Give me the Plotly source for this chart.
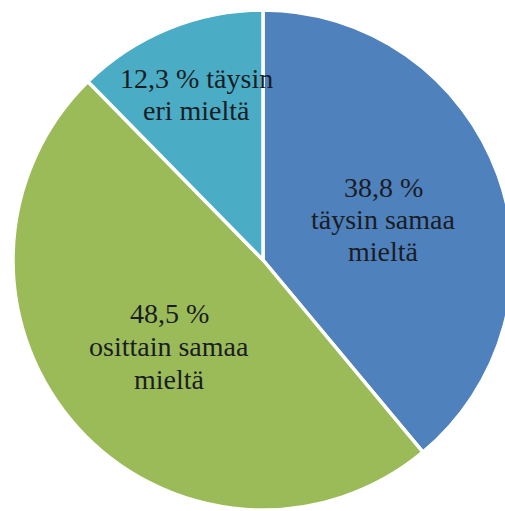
import plotly.graph_objects as go

# Survey answer shares (%)
labels = ["täysin samaa mieltä", "osittain samaa mieltä", "täysin eri mieltä"]
values = [38.8, 48.5, 12.3]
colors = ["#4F81BD", "#9BBB59", "#4BACC6"]

# Text lines following the value of each slice
label_tails = [["täysin samaa", "mieltä"], ["osittain samaa", "mieltä"], ["eri mieltä"]]
value_joins_first_tail = [False, False, True]

# Canvas and label placement (pixels from the top-left corner)
W, H = 526, 511
label_centers_x = [383, 169, 196]
label_first_mid_y = [187.5, 313.5, 78.5]
line_step = [32, 33, 32]
FONT_SIZE = 28


def fmt_pct(v):
    return f"{v:.1f}".replace(".", ",") + " %"


fig = go.Figure(
    go.Pie(
        labels=labels,
        values=values,
        sort=False,
        direction="clockwise",
        rotation=0,
        marker=dict(colors=colors, line=dict(color="white", width=3.5)),
        textinfo="none",
        hoverinfo="label+percent",
        domain=dict(x=[0, 1], y=[1 / H, 501 / H]),
        showlegend=False,
    )
)

annotations = []
for i, v in enumerate(values):
    tails = list(label_tails[i])
    if value_joins_first_tail[i]:
        lines = [fmt_pct(v) + " " + labels[i].split(" ")[0]] + tails
    else:
        lines = [fmt_pct(v)] + tails
    for k, line in enumerate(lines):
        py = label_first_mid_y[i] + k * line_step[i]
        annotations.append(
            dict(
                text=line,
                x=label_centers_x[i] / W,
                y=1 - py / H,
                xref="paper",
                yref="paper",
                xanchor="center",
                yanchor="middle",
                showarrow=False,
                font=dict(family="Liberation Serif", size=FONT_SIZE, color="#1a1d24"),
            )
        )

fig.update_layout(
    width=W,
    height=H,
    margin=dict(l=0, r=0, t=0, b=0),
    paper_bgcolor="white",
    plot_bgcolor="white",
    annotations=annotations,
)

fig.write_html(
    "out.html",
    post_script="document.documentElement.style.overflow='hidden';document.body.style.overflow='hidden';document.body.style.margin='0';",
)
